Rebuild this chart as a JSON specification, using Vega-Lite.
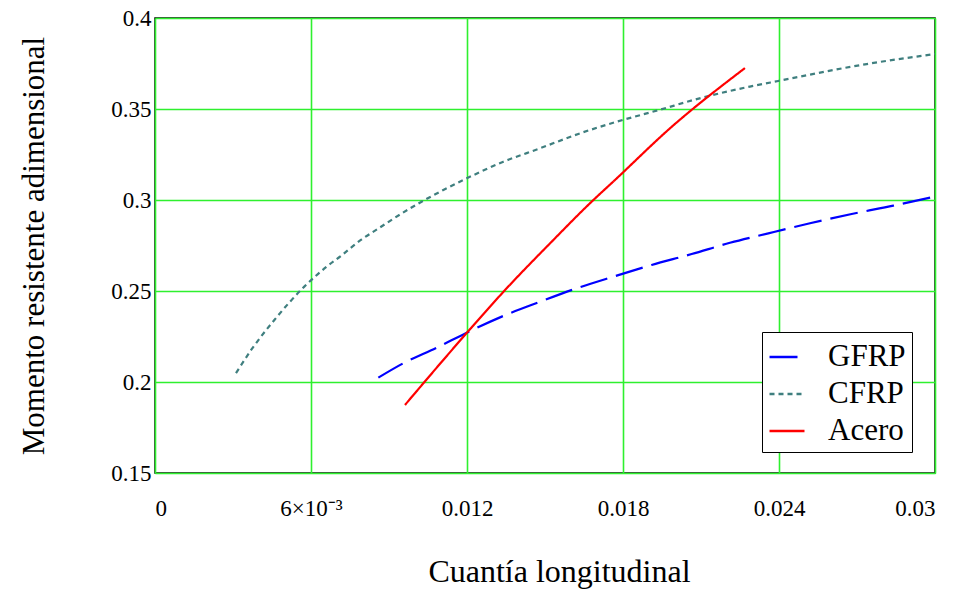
{
  "$schema": "https://vega.github.io/schema/vega-lite/v6.json",
  "width": 780,
  "height": 455,
  "autosize": {"type": "none"},
  "padding": {"left": 155, "top": 18, "right": 29, "bottom": 117},
  "background": "white",
  "config": {
    "font": "Liberation Serif",
    "view": {"stroke": "black", "strokeWidth": 1.5},
    "axis": {"gridColor": "#2ef02e", "gridOpacity": 1, "gridWidth": 1.6, "domain": false, "ticks": false, "labelColor": "black", "titleColor": "black", "labelFont": "Liberation Serif", "titleFont": "Liberation Serif", "titleFontWeight": "normal"}
  },
  "data": {
    "values": [
      {"rho": 0.00859, "m": 0.2024, "s": "GFRP"},
      {"rho": 0.00955, "m": 0.2103, "s": "GFRP"},
      {"rho": 0.010833, "m": 0.2188, "s": "GFRP"},
      {"rho": 0.01199, "m": 0.2271, "s": "GFRP"},
      {"rho": 0.013397, "m": 0.2363, "s": "GFRP"},
      {"rho": 0.014808, "m": 0.2441, "s": "GFRP"},
      {"rho": 0.01622, "m": 0.2515, "s": "GFRP"},
      {"rho": 0.017628, "m": 0.2579, "s": "GFRP"},
      {"rho": 0.0191, "m": 0.2643, "s": "GFRP"},
      {"rho": 0.020642, "m": 0.2703, "s": "GFRP"},
      {"rho": 0.022115, "m": 0.2765, "s": "GFRP"},
      {"rho": 0.02359, "m": 0.2817, "s": "GFRP"},
      {"rho": 0.025192, "m": 0.2872, "s": "GFRP"},
      {"rho": 0.026795, "m": 0.2923, "s": "GFRP"},
      {"rho": 0.028397, "m": 0.2969, "s": "GFRP"},
      {"rho": 0.029872, "m": 0.3015, "s": "GFRP"},
      {"rho": 0.003115, "m": 0.2049, "s": "CFRP"},
      {"rho": 0.003719, "m": 0.2180, "s": "CFRP"},
      {"rho": 0.004615, "m": 0.2345, "s": "CFRP"},
      {"rho": 0.005742, "m": 0.2524, "s": "CFRP"},
      {"rho": 0.006604, "m": 0.2634, "s": "CFRP"},
      {"rho": 0.007142, "m": 0.2692, "s": "CFRP"},
      {"rho": 0.00795, "m": 0.2784, "s": "CFRP"},
      {"rho": 0.008565, "m": 0.2841, "s": "CFRP"},
      {"rho": 0.009167, "m": 0.2897, "s": "CFRP"},
      {"rho": 0.009808, "m": 0.2954, "s": "CFRP"},
      {"rho": 0.010423, "m": 0.3004, "s": "CFRP"},
      {"rho": 0.01109, "m": 0.3055, "s": "CFRP"},
      {"rho": 0.01199, "m": 0.3119, "s": "CFRP"},
      {"rho": 0.013397, "m": 0.3210, "s": "CFRP"},
      {"rho": 0.014808, "m": 0.3284, "s": "CFRP"},
      {"rho": 0.01628, "m": 0.3363, "s": "CFRP"},
      {"rho": 0.017756, "m": 0.3430, "s": "CFRP"},
      {"rho": 0.019295, "m": 0.3491, "s": "CFRP"},
      {"rho": 0.02109, "m": 0.3564, "s": "CFRP"},
      {"rho": 0.02288, "m": 0.3623, "s": "CFRP"},
      {"rho": 0.02397, "m": 0.3654, "s": "CFRP"},
      {"rho": 0.02737, "m": 0.3747, "s": "CFRP"},
      {"rho": 0.0300, "m": 0.3802, "s": "CFRP"},
      {"rho": 0.009615, "m": 0.1874, "s": "Acero"},
      {"rho": 0.0120, "m": 0.2271, "s": "Acero"},
      {"rho": 0.013462, "m": 0.2505, "s": "Acero"},
      {"rho": 0.015257, "m": 0.2771, "s": "Acero"},
      {"rho": 0.016795, "m": 0.2991, "s": "Acero"},
      {"rho": 0.017692, "m": 0.3110, "s": "Acero"},
      {"rho": 0.019808, "m": 0.3394, "s": "Acero"},
      {"rho": 0.022692, "m": 0.3725, "s": "Acero"}
    ]
  },
  "mark": {"type": "line", "strokeWidth": 2.2, "interpolate": "monotone"},
  "encoding": {
    "x": {
      "field": "rho", "type": "quantitative",
      "scale": {"domain": [0, 0.03], "nice": false, "zero": false},
      "axis": {
        "values": [0, 0.006, 0.012, 0.018, 0.024, 0.03],
        "labelExpr": "datum.value == 0.006 ? '6×10⁻³' : format(datum.value, '.3~f')",
        "labelFont": "Liberation Serif", "labelFontSize": 23, "labelPadding": 24,
        "gridColor": "#2ef02e", "gridOpacity": 1, "gridWidth": 1.6,
        "title": "Cuantía longitudinal", "titleFont": "Liberation Serif", "titleFontSize": 32, "titlePadding": 36,
        "titleX": 404, "titleAlign": "center"
      }
    },
    "y": {
      "field": "m", "type": "quantitative",
      "scale": {"domain": [0.15, 0.4], "nice": false, "zero": false},
      "axis": {
        "values": [0.15, 0.2, 0.25, 0.3, 0.35, 0.4],
        "format": ".2~f",
        "labelFont": "Liberation Serif", "labelFontSize": 23, "labelPadding": 4,
        "gridColor": "#2ef02e", "gridOpacity": 1, "gridWidth": 1.6,
        "title": "Momento resistente adimensional", "titleFont": "Liberation Serif", "titleFontSize": 31, "titlePadding": 60
      }
    },
    "color": {
      "field": "s", "type": "nominal",
      "scale": {"domain": ["GFRP", "CFRP", "Acero"], "range": ["#0000ff", "#3f7f7f", "#ff0000"]},
      "legend": {
        "title": null, "orient": "none", "legendX": 607, "legendY": 314,
        "labelFontSize": 31, "labelFont": "Liberation Serif", "labelColor": "black",
        "symbolType": "stroke", "symbolSize": 1225, "symbolStrokeWidth": 2.5, "labelOffset": 22,
        "rowPadding": 3, "padding": 6,
        "strokeColor": "black", "fillColor": "white"
      }
    },
    "strokeDash": {
      "field": "s", "type": "nominal",
      "scale": {"domain": ["GFRP", "CFRP", "Acero"], "range": [[28, 9], [5, 4], [1, 0]]},
      "legend": {
        "title": null, "orient": "none", "legendX": 607, "legendY": 314,
        "labelFontSize": 31, "labelFont": "Liberation Serif", "labelColor": "black",
        "symbolType": "stroke", "symbolSize": 1225, "symbolStrokeWidth": 2.5, "labelOffset": 22,
        "rowPadding": 3, "padding": 6,
        "strokeColor": "black", "fillColor": "white"
      }
    }
  }
}
